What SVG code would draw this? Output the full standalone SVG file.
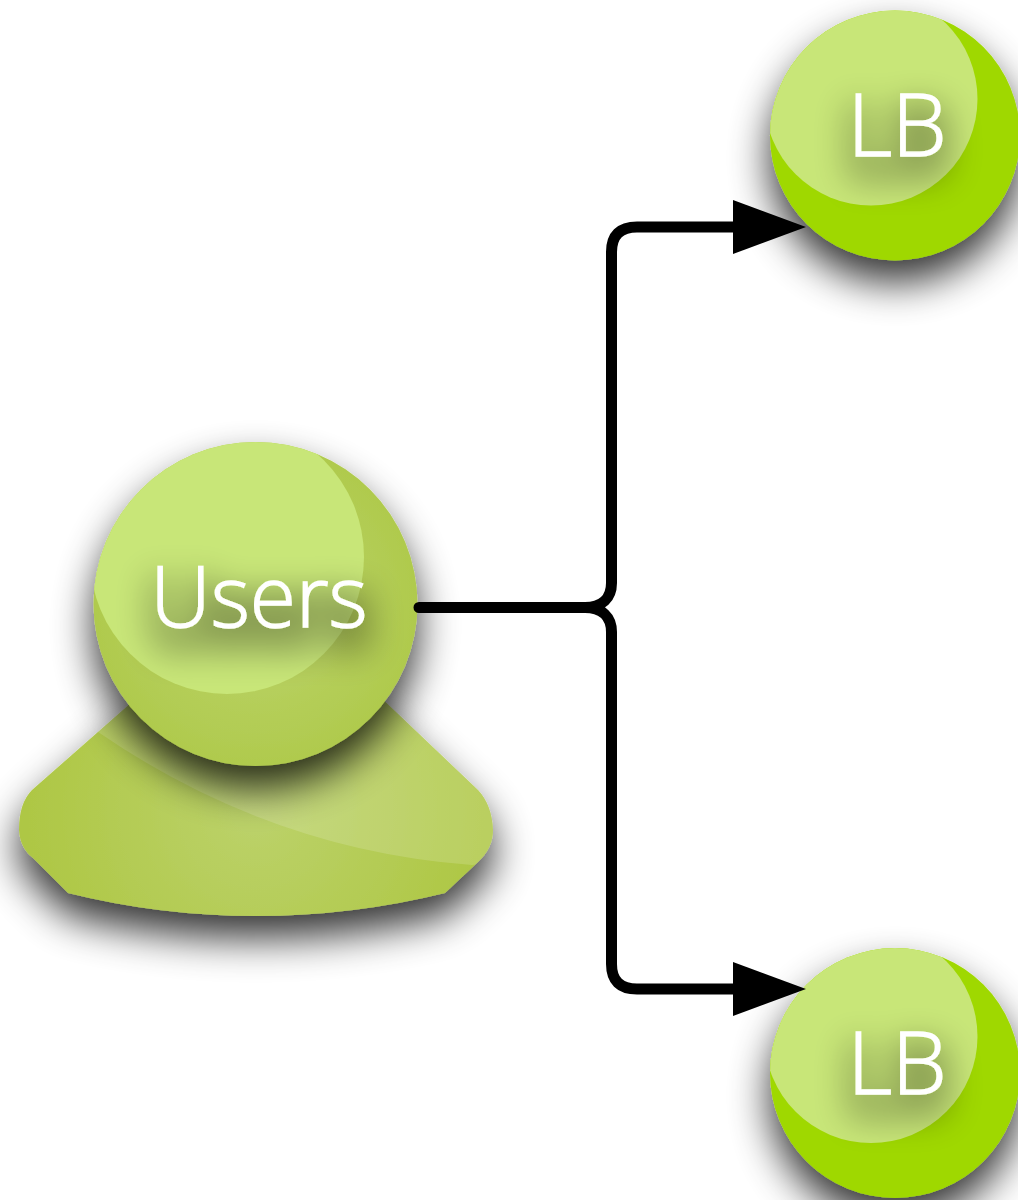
<svg xmlns="http://www.w3.org/2000/svg" xmlns:xlink="http://www.w3.org/1999/xlink" width="1018" height="1200" viewBox="0 0 1018 1200">
<style>
.label{font-family:"Open Sans","Liberation Sans",sans-serif;font-weight:300;font-size:84px;fill:#fff;stroke:#fff;stroke-width:1.300px;text-anchor:middle}
.lb{font-size:87px}
.hl{fill:#c8e678}
.wire{fill:none;stroke:#000;stroke-width:11;stroke-linecap:round;stroke-linejoin:round}
</style>
<defs>
<radialGradient id="userHead" cx="0.5" cy="0.5" r="0.55"><stop offset="0.4" stop-color="#b7d05f"/><stop offset="1" stop-color="#aec94a"/></radialGradient>
<radialGradient id="userBody" gradientUnits="userSpaceOnUse" cx="256" cy="810" r="230"><stop offset="0" stop-color="#bcd26b"/><stop offset="1" stop-color="#aec744"/></radialGradient>
<filter id="shadow" x="-40%" y="-40%" width="180%" height="200%"><feGaussianBlur in="SourceAlpha" stdDeviation="20"/><feOffset dy="22"/><feComponentTransfer><feFuncA type="linear" slope="0.8"/></feComponentTransfer><feMerge><feMergeNode/><feMergeNode in="SourceGraphic"/></feMerge></filter>
<filter id="textShadow" x="-50%" y="-80%" width="200%" height="280%"><feMorphology in="SourceAlpha" operator="dilate" radius="7"/><feGaussianBlur stdDeviation="17"/><feOffset dy="17"/><feComponentTransfer><feFuncA type="linear" slope="0.32"/></feComponentTransfer><feMerge><feMergeNode/><feMergeNode in="SourceGraphic"/></feMerge></filter>
<clipPath id="clipHead"><circle cx="255.500" cy="604" r="162"/></clipPath>
<clipPath id="clipLb"><circle cx="895" cy="135.500" r="125"/></clipPath>
<clipPath id="clipBody"><path d="M140 695L32 790Q19 803 19 830Q20 848 33 858L68 893Q160 916 256 916Q352 916 445 893L478 862Q493 848 493 830Q492 805 478 790L375 692Z"/></clipPath>
<marker id="arrow" markerUnits="userSpaceOnUse" markerWidth="74" markerHeight="56" refX="2" refY="27" orient="auto"><path d="M0 0L73 27L0 54Z" fill="#000"/></marker>
<g id="lbShape">
<circle cx="895" cy="135.500" r="125" fill="#9fd800" filter="url(#shadow)"/>
<circle cx="871" cy="99" r="106.500" class="hl" clip-path="url(#clipLb)"/>
<text x="897" y="156" class="label lb" filter="url(#textShadow)">LB</text>
</g>
</defs>
<g id="users">
<path d="M140 695L32 790Q19 803 19 830Q20 848 33 858L68 893Q160 916 256 916Q352 916 445 893L478 862Q493 848 493 830Q492 805 478 790L375 692Z" fill="url(#userBody)" filter="url(#shadow)"/>
<path d="M98 732Q270 850 472 865L520 860L520 690L98 690Z" fill="#fff" fill-opacity="0.15" clip-path="url(#clipBody)"/>
<circle cx="255.500" cy="604" r="162" fill="url(#userHead)" filter="url(#shadow)"/>
<circle cx="227" cy="557" r="137" class="hl" clip-path="url(#clipHead)"/>
<text x="259" y="627" class="label" filter="url(#textShadow)">Users</text>
</g>
<g id="lb1"><use xlink:href="#lbShape"/></g>
<g id="lb2"><use xlink:href="#lbShape" y="937.500"/></g>
<g id="connectors">
<path class="wire" d="M419 607.500H585C602 607.500 611.500 598 611.500 583V252Q611.500 227 637 227H735" marker-end="url(#arrow)"/>
<path class="wire" d="M585 607.500C602 607.500 611.500 617 611.500 632V964Q611.500 989 637 989H735" marker-end="url(#arrow)"/>
</g>
</svg>
